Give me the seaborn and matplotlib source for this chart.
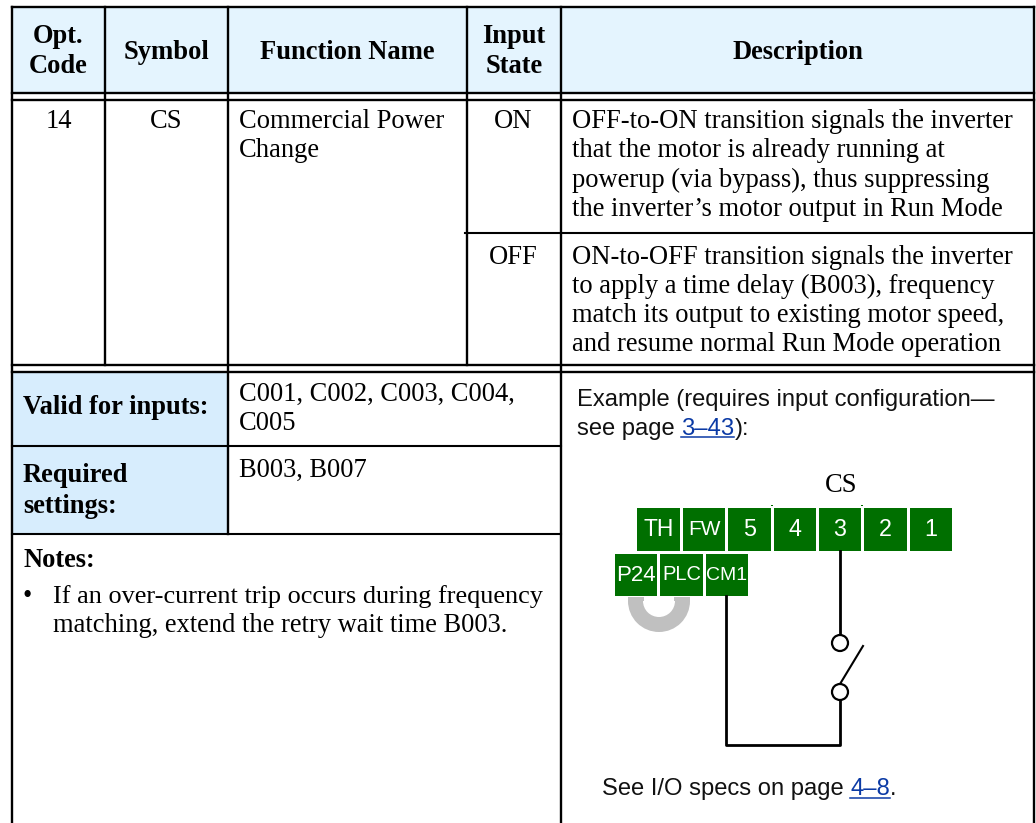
import matplotlib
matplotlib.use('Agg')
import matplotlib.pyplot as plt
from matplotlib.patches import Rectangle, Wedge, Circle
import seaborn as sns

W, H = 1036, 823

# table text
headers = [('Opt.\nCode', 58.5), ('Symbol', 166.5), ('Function Name', 347.5), ('Input\nState', 514), ('Description', 798)]
opt_code = '14'
symbol = 'CS'
function_name = ['Commercial Power', 'Change']
input_states = ['ON', 'OFF']
desc_on = ['OFF-to-ON transition signals the inverter',
           'that the motor is already running at',
           'powerup (via bypass), thus suppressing',
           'the inverter\u2019s motor output in Run Mode']
desc_off = ['ON-to-OFF transition signals the inverter',
            'to apply a time delay (B003), frequency',
            'match its output to existing motor speed,',
            'and resume normal Run Mode operation']
valid_inputs = ['C001, C002, C003, C004,', 'C005']
required = 'B003, B007'
notes = ['If an over-current trip occurs during frequency',
         'matching, extend the retry wait time B003.']

# terminal block
top_terminals = ['TH', 'FW', '5', '4', '3', '2', '1']
top_lefts = [637, 683, 728, 774, 819, 864, 910]
top_rights = [680, 725, 771, 816, 861, 907, 952]
bottom_terminals = ['P24', 'PLC', 'CM1']
bottom_lefts = [615, 660, 706]
bottom_rights = [657, 703, 748]

SERIF = 'Liberation Serif'
SANS = 'Liberation Sans'
BLACK = '#000000'
GREEN = '#006f00'
LINK = '#0b3aa5'
GREY = '#c0c0c0'
# the labels are condensed in the original, so the wide ones get a smaller size
label_sizes = {'TH': 16.5, 'FW': 15, 'P24': 16, 'PLC': 14.5, 'CM1': 14}

sns.set_theme(style='white')
plt.rcParams['font.family'] = [SERIF, 'DejaVu Serif']

fig = plt.figure(figsize=(W / 100, H / 100), dpi=100)
ax = fig.add_axes([0, 0, 1, 1])


def line(xs, ys, lw=1.7, color=BLACK):
    sns.lineplot(x=xs, y=ys, color=color, linewidth=lw, sort=False, estimator=None,
                 errorbar=None, ax=ax, solid_capstyle='projecting', legend=False)


def txt(x, y, s, size=19.1, weight='normal', ha='left', family=SERIF, color=BLACK):
    return ax.text(x, y, s, fontsize=size, fontweight=weight, ha=ha, va='baseline',
                   family=family, color=color)


def sans_run(x, y, parts, size=17.1):
    # text with link parts, placed one after another
    r = fig.canvas.get_renderer()
    for s, is_link in parts:
        t = txt(x, y, s, size=size, family=SANS, color=LINK if is_link else '#111111')
        x1 = x + t.get_window_extent(r).width
        if is_link:
            line([x, x1], [y + 2.5, y + 2.5], lw=1.1, color=LINK)
        x = x1


def terminal(s, x0, x1, y0, y1):
    ax.add_patch(Rectangle((x0, y0), x1 - x0, y1 - y0, fc=GREEN, ec='none', zorder=2))
    size = label_sizes.get(s, 16.8)
    txt((x0 + x1) / 2, (y0 + y1) / 2 - 2 + 0.5 * size, s, size=size, ha='center', family=SANS, color='white')


# fills
ax.add_patch(Rectangle((12, 7), 1022, 85.5, fc='#e4f4fe', ec='none'))
ax.add_patch(Rectangle((12, 372), 216, 162, fc='#d7edfd', ec='none'))

# outer border and rules
line([12, 12], [7, H])
line([1034, 1034], [7, H])
for y in [7, 92.5, 99.5, 365, 372]:
    line([12, 1034], [y, y])
line([465, 1034], [233, 233], lw=1.5)
line([12, 561], [445.5, 445.5], lw=1.5)
line([12, 561], [534, 534], lw=1.5)
line([105, 105], [7, 365])
line([228, 228], [7, 534])
line([467, 467], [7, 365])
line([561, 561], [7, H])

# header
for s, cx in headers:
    parts = s.split('\n')
    if len(parts) == 2:
        txt(cx, 43, parts[0], weight='bold', ha='center')
        txt(cx, 73, parts[1], weight='bold', ha='center')
    else:
        txt(cx, 59, s, weight='bold', ha='center')

# body
txt(58.5, 128, opt_code, ha='center')
txt(166.5, 128, symbol, ha='center')
txt(239, 128, function_name[0])
txt(239, 157, function_name[1])
txt(513.5, 128, input_states[0], ha='center')
txt(513.5, 263.5, input_states[1], ha='center')
for i, s in enumerate(desc_on):
    txt(572, 128 + i * 29.3, s)
for i, s in enumerate(desc_off):
    txt(572, 263.5 + i * 29.3, s)

# lower left
txt(23, 414, 'Valid for inputs:', weight='bold')
txt(23, 482, 'Required', weight='bold')
txt(23, 513, 'settings:', weight='bold')
txt(239, 401, valid_inputs[0])
txt(239, 430, valid_inputs[1])
txt(239, 477, required)
txt(23, 567, 'Notes:', weight='bold')
txt(23, 603, '\u2022')
txt(53, 602.5, notes[0], size=18.95)
txt(53, 632.5, notes[1])

# example panel
sans_run(577, 406, [('Example (requires input configuration\u2014', False)])
sans_run(577, 434.5, [('see page ', False), ('3\u201343', True), ('):', False)])
txt(841, 492, symbol, ha='center')

# jumper between P24 and PLC
ax.add_patch(Wedge((659, 601), 31, 0, 180, width=15, fc=GREY, ec='none', zorder=1))
ax.add_patch(Rectangle((628, 597), 16, 4, fc=GREY, ec='none', zorder=1))
ax.add_patch(Rectangle((674, 597), 16, 4, fc=GREY, ec='none', zorder=1))

for s, x0, x1 in zip(top_terminals, top_lefts, top_rights):
    terminal(s, x0, x1, 508, 551)
for s, x0, x1 in zip(bottom_terminals, bottom_lefts, bottom_rights):
    terminal(s, x0, x1, 554, 596)
ax.add_patch(Rectangle((771, 505), 1.5, 1, fc=GREEN, ec='none'))
ax.add_patch(Rectangle((861, 505), 2, 1, fc=GREEN, ec='none'))

# wiring
line([840, 840], [551, 636], lw=2.0)
line([840, 840, 726, 726], [700, 745, 745, 596], lw=2.0)
line([840, 863], [684, 646], lw=1.5)
for cy in [643, 692]:
    ax.add_patch(Circle((840, cy), 8, fc='white', ec=BLACK, lw=1.6, zorder=3))

sans_run(602, 795, [('See I/O specs on page ', False), ('4\u20138', True), ('.', False)])

ax.set_xlim(0, W)
ax.set_ylim(H, 0)
ax.axis('off')
fig.savefig('out.png', dpi=100)
